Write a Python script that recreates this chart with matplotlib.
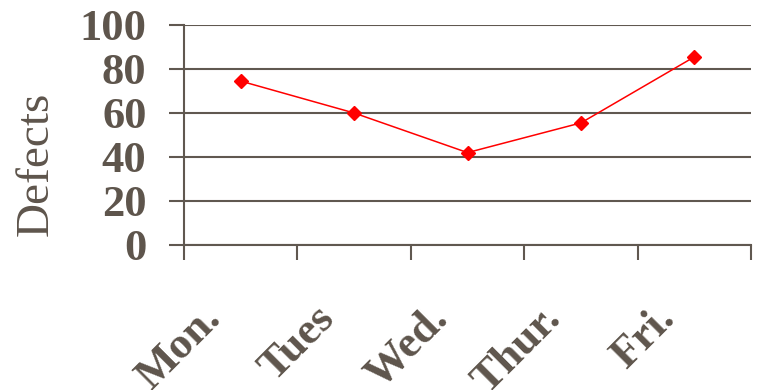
import matplotlib
matplotlib.use("Agg")
import matplotlib.pyplot as plt
import matplotlib.transforms as mtransforms

days = ["Mon.", "Tues", "Wed.", "Thur.", "Fri."]
defects = [74.5, 60, 42, 55.5, 85.5]
y_ticks = [0, 20, 40, 60, 80, 100]

txt = "#5e554c"
grid = "#605850"

plt.rcParams["font.family"] = ["Liberation Serif", "DejaVu Serif"]

fig = plt.figure(figsize=(7.57, 3.9), dpi=100)
ax = fig.add_axes([0.2431, 0.3718, 0.7490, 0.5641])

x = list(range(len(days)))
ax.plot(x, defects, color="red", lw=1.1, marker="D", ms=7.5, mec="red", zorder=3)

ax.set_xlim(-0.5, len(days) - 0.5)
ax.set_ylim(0, 100)
ax.set_yticks(y_ticks)
ax.set_yticklabels([str(v) for v in y_ticks], fontsize=32, fontweight="bold", color=txt)
ax.tick_params(axis="y", length=11, width=1.5, color=grid, pad=16)
ax.yaxis.grid(True, color=grid, lw=1.5)
ax.set_axisbelow(True)

# tick marks sit between categories
ax.set_xticks([i - 0.5 for i in range(len(days) + 1)])
ax.set_xticklabels([])
ax.tick_params(axis="x", length=11, width=1.5, color=grid)

for s in ["top", "right"]:
    ax.spines[s].set_visible(False)
for s in ["left", "bottom"]:
    ax.spines[s].set_color(grid)
    ax.spines[s].set_linewidth(1.5)

# day labels at 45 deg, ending just left of each category centre
trans = mtransforms.blended_transform_factory(ax.transData, ax.transAxes)
for i, d in enumerate(days):
    ax.text(i - 0.23, -0.305, d, transform=trans, rotation=45,
            rotation_mode="anchor", ha="right", va="center",
            fontsize=32, fontweight="bold", color=txt, clip_on=False)

fig.text(0.048, 0.579, "Defects", rotation=90, ha="center", va="center",
         fontsize=34, color=txt)

fig.savefig("out.png", dpi=100)
